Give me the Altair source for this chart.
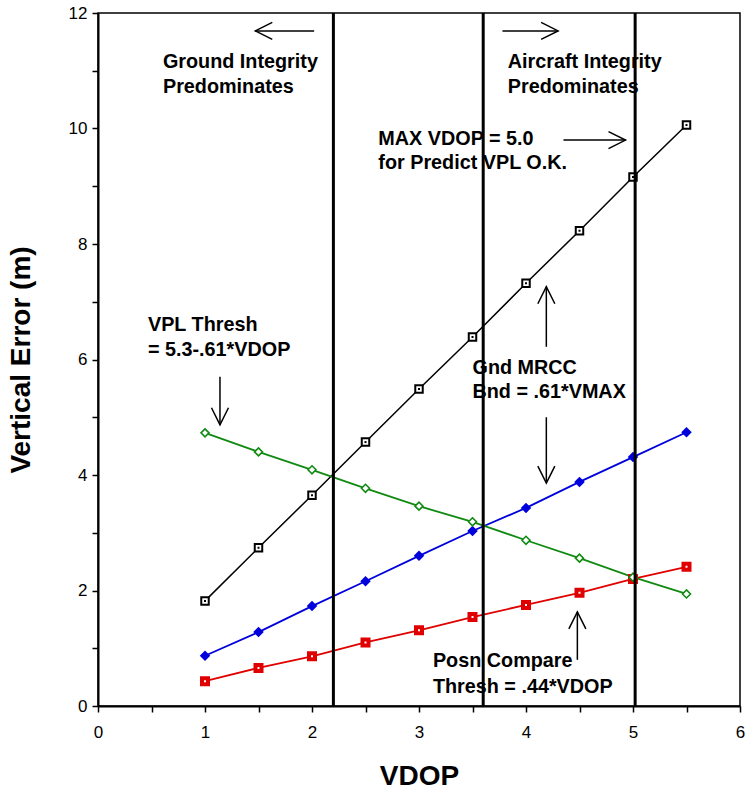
import altair as alt
import pandas as pd

# ---- data ----
vdop = [1.0, 1.5, 2.0, 2.5, 3.0, 3.5, 4.0, 4.5, 5.0, 5.5]
vmax = [1.82, 2.74, 3.65, 4.57, 5.49, 6.39, 7.32, 8.23, 9.16, 10.06]
gnd_bnd = [0.87, 1.28, 1.73, 2.16, 2.60, 3.03, 3.43, 3.88, 4.31, 4.74]
posn_thresh = [0.43, 0.66, 0.86, 1.10, 1.31, 1.54, 1.75, 1.96, 2.20, 2.41]
vpl_thresh = [4.73, 4.40, 4.09, 3.77, 3.46, 3.19, 2.87, 2.56, 2.23, 1.94]

boundaries = [2.2, 3.6, 5.02]

note_text = ["Ground Integrity", "Predominates",
             "Aircraft Integrity", "Predominates",
             "MAX VDOP = 5.0", "for Predict VPL O.K.",
             "VPL Thresh", "= 5.3-.61*VDOP",
             "Gnd MRCC", "Bnd = .61*VMAX",
             "Posn Compare", "Thresh = .44*VDOP"]
note_x = [0.607, 0.607, 3.83, 3.83, 2.62, 2.62, 0.467, 0.467, 3.50, 3.50, 3.13, 3.13]
note_y = [11.15, 10.72, 11.15, 10.72, 9.82, 9.40, 6.60, 6.16, 5.85, 5.44, 0.78, 0.33]

arrow_x1 = [2.02, 3.78, 4.35, 1.14, 4.19, 4.19, 4.48]
arrow_y1 = [11.69, 11.69, 9.80, 5.70, 6.22, 5.00, 0.80]
arrow_x2 = [1.47, 4.30, 4.93, 1.14, 4.19, 4.19, 4.48]
arrow_y2 = [11.69, 11.69, 9.80, 4.87, 7.26, 3.86, 1.63]
arrow_dir = [180, 0, 0, 90, 270, 90, 270]

FONT = "Liberation Sans"

x_ticks = [i * 0.5 for i in range(13)]
y_ticks = list(range(13))

x_axis = alt.Axis(values=x_ticks, title="VDOP", grid=False,
                  labelExpr="datum.value % 1 === 0 ? format(datum.value, 'd') : ''",
                  labelFlush=False, labelOverlap=False,
                  tickSize=6, tickWidth=1.5, tickColor="black",
                  domainColor="black", domainWidth=2,
                  labelFont=FONT, labelFontSize=17, labelColor="black", labelPadding=12,
                  titleFont=FONT, titleFontSize=28, titleFontWeight="bold",
                  titleColor="black", titlePadding=22)
y_axis = alt.Axis(values=y_ticks, title="Vertical Error (m)", grid=False,
                  labelExpr="datum.value % 2 === 0 ? format(datum.value, 'd') : ''",
                  labelFlush=False, labelOverlap=False,
                  tickSize=6, tickWidth=1.5, tickColor="black",
                  domainColor="black", domainWidth=2,
                  labelFont=FONT, labelFontSize=17, labelColor="black", labelPadding=5,
                  titleFont=FONT, titleFontSize=28, titleFontWeight="bold",
                  titleColor="black", titlePadding=33)
xs = alt.Scale(domain=[0, 6], nice=False)
ys = alt.Scale(domain=[0, 12], nice=False)


def X(f):
    return alt.X(f, type="quantitative", scale=xs, axis=x_axis)


def Y(f):
    return alt.Y(f, type="quantitative", scale=ys, axis=y_axis)


series = pd.DataFrame({"x": vdop * 4,
                       "y": vmax + gnd_bnd + posn_thresh + vpl_thresh,
                       "s": ["vmax"] * 10 + ["gnd"] * 10 + ["posn"] * 10 + ["vpl"] * 10})

base = alt.Chart(series)


def ser(name):
    return base.transform_filter(alt.datum.s == name)


layers = []
layers.append(ser("vmax").mark_line(color="black", strokeWidth=1.5).encode(x=X("x"), y=Y("y")))
layers.append(ser("gnd").mark_line(color="#0000dd", strokeWidth=1.8).encode(x=X("x"), y=Y("y")))
layers.append(ser("posn").mark_line(color="#e00000", strokeWidth=1.8).encode(x=X("x"), y=Y("y")))
layers.append(ser("vpl").mark_line(color="#108a10", strokeWidth=1.8).encode(x=X("x"), y=Y("y")))

layers.append(ser("vmax").mark_point(shape="square", size=56, filled=False, fill="white",
                                     stroke="black", strokeWidth=2, opacity=1).encode(x=X("x"), y=Y("y")))
layers.append(ser("vmax").mark_point(shape="square", size=4, filled=True, color="black",
                                     opacity=1).encode(x=X("x"), y=Y("y")))
layers.append(ser("gnd").mark_point(shape="diamond", size=110, filled=True, color="#0000dd",
                                    opacity=1).encode(x=X("x"), y=Y("y")))
layers.append(ser("posn").mark_point(shape="square", size=36, filled=False, fill="white",
                                     stroke="#e00000", strokeWidth=4, opacity=1).encode(x=X("x"), y=Y("y")))
layers.append(ser("vpl").mark_point(shape="diamond", size=64, filled=False, fill="white",
                                    stroke="#108a10", strokeWidth=1.6, opacity=1).encode(x=X("x"), y=Y("y")))

notes = pd.DataFrame({"t": note_text, "x": note_x, "y": note_y})
layers.append(alt.Chart(notes).mark_text(font=FONT, fontSize=19.8, fontWeight="bold", align="left",
                                         baseline="middle", color="black")
              .encode(x=X("x"), y=Y("y"), text="t:N"))

arrows = pd.DataFrame({"x1": arrow_x1, "y1": arrow_y1, "x2": arrow_x2, "y2": arrow_y2, "a": arrow_dir})
layers.append(alt.Chart(arrows).mark_rule(color="black", strokeWidth=1.5)
              .encode(x=X("x1"), y=Y("y1"), x2="x2:Q", y2="y2:Q"))
layers.append(alt.Chart(arrows).mark_point(shape="M-2,-1L0,0L-2,1", size=289, filled=False,
                                           stroke="black", strokeWidth=1.5, opacity=1)
              .encode(x=X("x2"), y=Y("y2"), angle=alt.Angle("a:Q", scale=None)))

bounds = pd.DataFrame({"b": boundaries})
layers.append(alt.Chart(bounds).mark_rule(color="black", strokeWidth=3).encode(x=X("b")))

chart = alt.layer(*layers).properties(
    width=642, height=693,
    padding={"left": 98, "top": 13, "right": 6, "bottom": 89},
    autosize=alt.AutoSizeParams(type="none"),
    background="white",
).configure_view(stroke="black", strokeWidth=1.5)

chart.save("out.html", embed_options={"renderer": "svg", "actions": False})
